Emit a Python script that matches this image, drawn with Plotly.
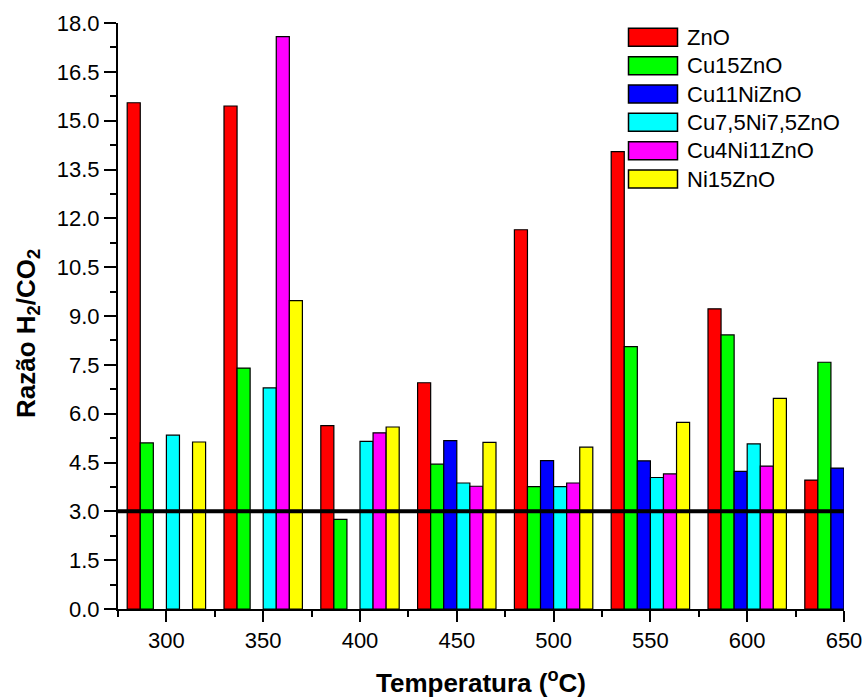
import plotly.graph_objects as go

temperatures = [300, 350, 400, 450, 500, 550, 600, 650]
series_names = ["ZnO", "Cu15ZnO", "Cu11NiZnO", "Cu7,5Ni7,5ZnO", "Cu4Ni11ZnO", "Ni15ZnO"]
series_colors = ["#FF0000", "#00FF00", "#0000FF", "#00FFFF", "#FF00FF", "#FFFF00"]

zno = [15.55, 15.45, 5.63, 6.95, 11.65, 14.05, 9.22, 3.96]
cu15zno = [5.10, 7.40, 2.75, 4.45, 3.76, 8.06, 8.42, 7.58]
cu11nizno = [None, None, None, 5.17, 4.56, 4.55, 4.23, 4.33]
cu75ni75zno = [5.34, 6.79, 5.15, 3.87, 3.76, 4.04, 5.07, None]
cu4ni11zno = [None, 17.58, 5.41, 3.77, 3.87, 4.15, 4.39, None]
ni15zno = [5.13, 9.47, 5.59, 5.12, 4.97, 5.73, 6.47, None]

series_values = [zno, cu15zno, cu11nizno, cu75ni75zno, cu4ni11zno, ni15zno]
reference_ratio = 3.0

FONT = "Liberation Sans, Arial, sans-serif"

fig = go.Figure()
for name, color, vals in zip(series_names, series_colors, series_values):
    fig.add_trace(go.Bar(
        x=temperatures, y=vals, name=name,
        marker=dict(color=color, line=dict(color="black", width=1.2)),
        showlegend=False,
    ))

# reference line at H2/CO2 = 3
fig.add_shape(type="line", xref="paper", yref="y", x0=0, x1=1,
              y0=reference_ratio, y1=reference_ratio,
              line=dict(color="black", width=4))

# custom legend (wide swatches as in the reference)
L, R, T, B = 118, 844, 23, 609
W, H = R - L, B - T
def px(x):
    return (x - L) / W
def py(y):
    return (B - y) / H

for i, (name, color) in enumerate(zip(series_names, series_colors)):
    cy = 37.3 + i * 28.35
    fig.add_shape(type="rect", xref="paper", yref="paper",
                  x0=px(628.5), x1=px(677.5), y0=py(cy + 9), y1=py(cy - 9),
                  fillcolor=color, line=dict(color="black", width=1.5))
    fig.add_annotation(x=px(685), y=py(cy), xref="paper", yref="paper",
                       text=name, showarrow=False, xanchor="left", yanchor="middle",
                       font=dict(family=FONT, size=22, color="black"))

fig.add_annotation(x=px(481), y=py(681), xref="paper", yref="paper",
                   text="<b>Temperatura (<sup>o</sup>C)</b>", showarrow=False,
                   xanchor="center", yanchor="middle",
                   font=dict(family=FONT, size=26, color="black"))
fig.add_annotation(x=px(27), y=py(334), xref="paper", yref="paper",
                   text="<b>Razão H<sub>2</sub>/CO<sub>2</sub></b>", showarrow=False,
                   textangle=-90, xanchor="center", yanchor="middle",
                   font=dict(family=FONT, size=26, color="black"))

fig.update_layout(
    width=864, height=699, autosize=False,
    margin=dict(l=L, r=864 - R, t=T, b=699 - B, pad=0, autoexpand=False),
    paper_bgcolor="white", plot_bgcolor="white",
    barmode="group", bargap=0.19, bargroupgap=0,
    font=dict(family=FONT, size=22, color="black"),
    xaxis=dict(range=[275, 650], tickmode="linear", tick0=300, dtick=50,
               ticks="outside", ticklen=11, tickwidth=2, tickcolor="black",
               showline=True, linewidth=2, linecolor="black", showgrid=False,
               zeroline=False, automargin=False,
               minor=dict(dtick=25, tick0=275, ticks="outside", ticklen=6,
                          tickwidth=2, tickcolor="black", showgrid=False),
               tickfont=dict(family=FONT, size=22, color="black")),
    yaxis=dict(range=[0, 18], tickmode="linear", tick0=0, dtick=1.5,
               tickformat=".1f",
               ticks="outside", ticklen=12, tickwidth=2, tickcolor="black",
               showline=True, linewidth=2, linecolor="black", showgrid=False,
               zeroline=False, automargin=False,
               minor=dict(dtick=0.75, tick0=0, ticks="outside", ticklen=6,
                          tickwidth=2, tickcolor="black", showgrid=False),
               tickfont=dict(family=FONT, size=22, color="black")),
    xaxis2=dict(range=[275, 650], overlaying="x", side="top", anchor="y",
                tickmode="linear", tick0=275, dtick=25, ticks="inside",
                ticklen=6, tickwidth=2, tickcolor="black", showticklabels=False,
                showline=True, linewidth=2, linecolor="black", showgrid=False,
                zeroline=False, automargin=False),
    yaxis2=dict(range=[0, 18], overlaying="y", side="right", anchor="x",
                tickmode="linear", tick0=0, dtick=0.75, ticks="inside",
                ticklen=6, tickwidth=2, tickcolor="black", showticklabels=False,
                showline=True, linewidth=2, linecolor="black", showgrid=False,
                zeroline=False, automargin=False),
)

fig.write_html("out.html", config={"displayModeBar": False},
               post_script="document.body.style.margin='0';document.body.style.overflow='hidden';")
